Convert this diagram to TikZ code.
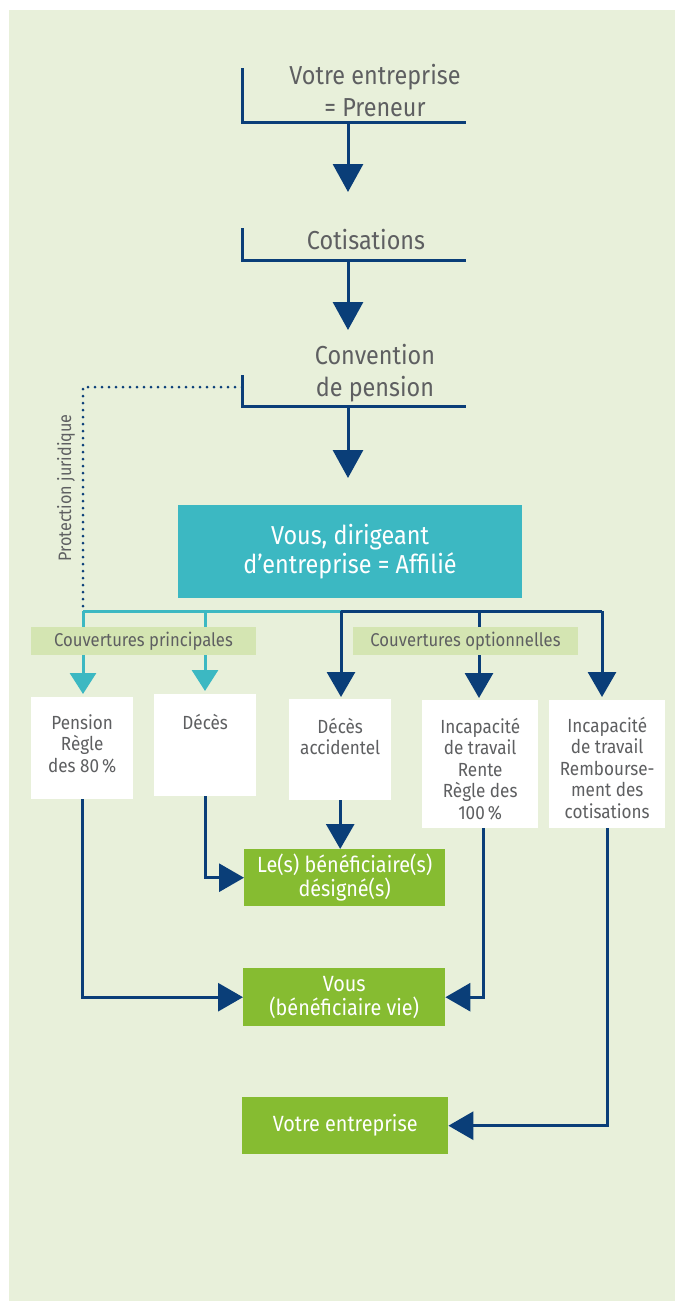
\documentclass[tikz,border=0pt]{standalone}
\usepackage{fontspec}
\setmainfont{Fira Sans}[FakeStretch=0.9]
\usetikzlibrary{arrows.meta,calc}
\definecolor{bg}{HTML}{E8F0DA}
\definecolor{navy}{HTML}{0A3E78}
\definecolor{tealc}{HTML}{3CB8C2}
\definecolor{greenc}{HTML}{86BC31}
\definecolor{lbl}{HTML}{D4E5B2}
\definecolor{txt}{HTML}{5E5F61}
\tikzset{
  toptext/.style={font=\fontsize{26}{32}\selectfont, text=txt, align=center, inner sep=0, anchor=north},
  bracket/.style={navy, line width=3pt},
  arr/.style={navy, line width=3pt, -{Triangle[width=30pt,length=28pt]}},
  barr/.style={navy, line width=3pt, -{Triangle[width=28pt,length=25pt]}},
  tarr/.style={tealc, line width=3pt, -{Triangle[width=26pt,length=21pt]}},
  wbox/.style={fill=white, anchor=north west, inner sep=0},
  wtext/.style={font=\fontsize{19}{21.5}\selectfont, text=txt, align=center, anchor=north, inner sep=0},
  gbox/.style={fill=greenc, anchor=north west, inner sep=0, text=white, font=\fontsize{22}{24}\selectfont, align=center},
  lblbox/.style={fill=lbl, minimum width=225pt, minimum height=28pt, inner sep=0, text=txt, font=\fontsize{18.5}{20}\selectfont},
  dotline/.style={navy, line width=3pt, line cap=round, dash pattern=on 0pt off 7pt},
}
\begin{document}
\begin{tikzpicture}[x=1pt,y=-1pt]
\useasboundingbox (0,0) rectangle (675,1301);
\fill[white] (0,0) rectangle (675,1301);
\fill[bg] (9,10) rectangle (675,1301);

% --- top chain ---
\node[toptext] (t1) at (375,64) {Votre entreprise\\= Preneur};
\coordinate (b1a) at (242,68); \coordinate (b1b) at (242,122); \coordinate (b1c) at (466,122);
\coordinate (a1s) at (348,122); \coordinate (a1e) at (348,192);
\draw[bracket] (b1a) -- (b1b) -- (b1c);
\draw[arr] (a1s) -- (a1e);

\node[toptext] (t2) at (366,229) {Cotisations};
\coordinate (b2a) at (242,228); \coordinate (b2b) at (242,260); \coordinate (b2c) at (466,260);
\coordinate (a2s) at (348,260); \coordinate (a2e) at (348,330);
\draw[bracket] (b2a) -- (b2b) -- (b2c);
\draw[arr] (a2s) -- (a2e);

\node[toptext] (t3) at (375,344) {Convention\\de pension};
\coordinate (b3a) at (242,375); \coordinate (b3b) at (242,406); \coordinate (b3c) at (466,406);
\coordinate (a3s) at (348,406); \coordinate (a3e) at (348,478);
\draw[bracket] (b3a) -- (b3b) -- (b3c);
\draw[arr] (a3s) -- (a3e);

% --- dotted legal protection ---
\coordinate (d0) at (242,387); \coordinate (d1) at (83,387); \coordinate (d2) at (83,610);
\draw[dotline] (d0) -- (d1) -- (d2);
\node[rotate=90, text=txt, font=\fontsize{18}{20}\selectfont, inner sep=0] (prot) at (66,488) {Protection juridique};

% --- affiliate ---
\node[fill=tealc, minimum width=344pt, minimum height=93pt, inner sep=0, text=white, align=center,
      font=\fontsize{26}{29}\selectfont] (aff) at (350,551.5) {Vous, dirigeant\\d’entreprise = Affilié};

% --- coverage boxes ---
\node[wbox, minimum width=102pt, minimum height=102pt] (pen) at (31,697) {};
\node[wtext] (penT) at ($(pen.north)+(0,17)$) {Pension\\Règle\\des 80\,\%};
\node[wbox, minimum width=102pt, minimum height=102pt] (dec) at (154,694) {};
\node[wtext] (decT) at ($(dec.north)+(0,20)$) {Décès};
\node[wbox, minimum width=102pt, minimum height=101pt] (acc) at (289,699) {};
\node[wtext] (accT) at ($(acc.north)+(0,19)$) {Décès\\accidentel};
\node[wbox, minimum width=116pt, minimum height=128pt] (ren) at (422,700) {};
\node[wtext] (renT) at ($(ren.north)+(0,18)$) {Incapacité\\de travail\\Rente\\Règle des\\100\,\%};
\node[wbox, minimum width=116pt, minimum height=128pt] (rem) at (549,700) {};
\node[wtext] (remT) at ($(rem.north)+(0,17)$) {Incapacité\\de travail\\Rembourse-\\ment des\\cotisations};

% --- branch lines ---
\coordinate (c1) at (83,611); \coordinate (c2) at (205,611); \coordinate (c3) at (341,611);
\coordinate (c4) at (479,611); \coordinate (c5) at (602,611);
\draw[tealc, line width=3pt] (c1) -- (c3);
\draw[navy, line width=3pt] (c3) -- (c5);
\draw[tarr] (c1) -- ($(c1 |- pen.north)+(0,-3)$);
\draw[tarr] (c2) -- ($(c2 |- dec.north)+(0,-3)$);
\draw[barr] (c3) -- ($(c3 |- acc.north)+(0,-2)$);
\draw[barr] (c4) -- ($(c4 |- ren.north)+(0,-2)$);
\draw[barr] (c5) -- ($(c5 |- rem.north)+(0,-3)$);

% --- category labels ---
\node[lblbox] (lp) at (143.5,641) {Couvertures principales};
\node[lblbox] (lo) at (465.5,641) {Couvertures optionnelles};

% --- beneficiaries ---
\node[gbox, minimum width=201pt, minimum height=57pt] (ben) at (244,849) {Le(s) bénéficiaire(s)\\désigné(s)};
\node[gbox, minimum width=202pt, minimum height=58pt] (vie) at (243,968) {Vous\\(bénéficiaire vie)};
\node[gbox, minimum width=206pt, minimum height=57pt] (ent) at (242,1097) {Votre entreprise};

% --- result connectors ---
\draw[barr] (dec.south) |- (ben.west);
\draw[barr] (acc.south) -- (acc.south |- ben.north);
\draw[barr] (pen.south) |- (vie.west);
\draw[barr] ($(ren.south)+(3,0)$) |- (vie.east);
\draw[barr] (rem.south) |- (ent.east);
\end{tikzpicture}
\end{document}
